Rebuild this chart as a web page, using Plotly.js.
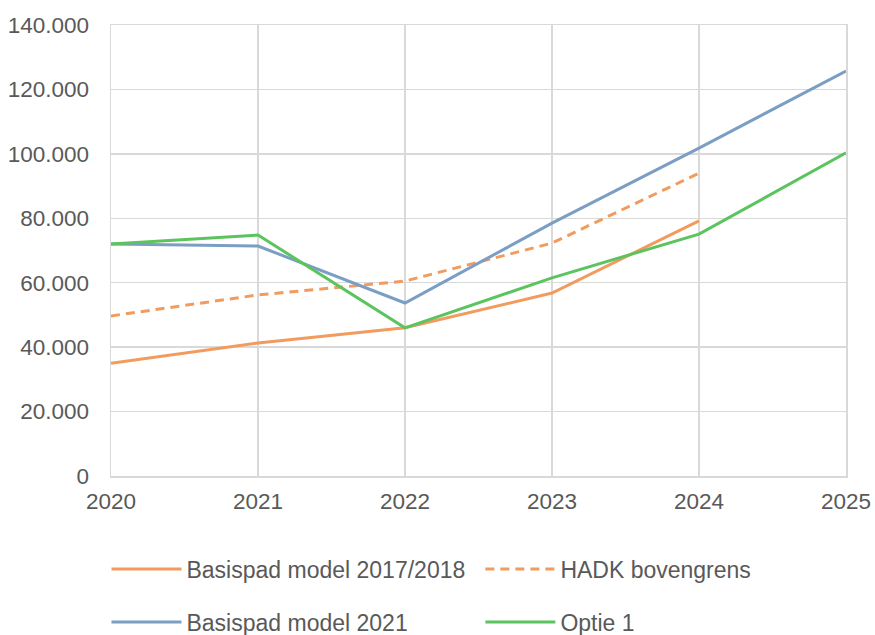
<!DOCTYPE html>
<html>
<head>
<meta charset="utf-8">
<script src="https://cdn.plot.ly/plotly-3.0.1.min.js"></script>
<style>
html, body { margin: 0; padding: 0; background: #fff; }
#chart { width: 875px; height: 635px; }
</style>
</head>
<body>
<div id="chart"></div>
<script>
const years = [2020, 2021, 2022, 2023, 2024, 2025]
const basis1718 = [35000, 41300, 46000, 56800, 79200, null]
const hadk = [49700, 56200, 60500, 72300, 94000, null]
const basis2021 = [72000, 71400, 53700, 78500, 101800, 125700]
const optie1 = [72000, 74800, 46000, 61500, 75100, 100300]

const orange = '#F29B5F'
const blue = '#7B9EC4'
const green = '#5CC45E'
const textColor = '#595959'
const gridColor = '#d9d9d9'

// one legend per series so each entry sits in its own grid cell
const data = [
  {x: years, y: basis1718, name: 'Basispad model 2017/2018', mode: 'lines',
   line: {color: orange, width: 3}, legend: 'legend'},
  {x: years, y: hadk, name: 'HADK bovengrens', mode: 'lines',
   line: {color: orange, width: 3, dash: '9px,6px'}, legend: 'legend2'},
  {x: years, y: basis2021, name: 'Basispad model 2021', mode: 'lines',
   line: {color: blue, width: 3}, legend: 'legend3'},
  {x: years, y: optie1, name: 'Optie 1', mode: 'lines',
   line: {color: green, width: 3}, legend: 'legend4'}
]

const legendBase = {
  orientation: 'h',
  xref: 'container', yref: 'container',
  xanchor: 'left', yanchor: 'middle',
  itemwidth: 70,
  font: {family: 'Liberation Sans, Arial, sans-serif', size: 23, color: textColor},
  bgcolor: 'rgba(0,0,0,0)'
}
const col1 = 0.1217, col2 = 0.549
const row1 = 1 - 569 / 635, row2 = 1 - 622 / 635

const layout = {
  width: 875,
  height: 635,
  margin: {l: 111, r: 29, t: 25, b: 159},
  paper_bgcolor: '#fff',
  plot_bgcolor: '#fff',
  separators: ',.',
  font: {family: 'Liberation Sans, Arial, sans-serif', size: 22.5, color: textColor},
  hovermode: false,
  xaxis: {
    range: [2020, 2025],
    tickvals: years,
    ticktext: years.map(String),
    showgrid: true, gridcolor: gridColor, gridwidth: 1.5,
    showline: true, linecolor: gridColor, linewidth: 1.5, mirror: true,
    zeroline: false,
    ticks: '', ticklabelstandoff: 4
  },
  yaxis: {
    range: [0, 140000],
    dtick: 20000,
    tickformat: ',d',
    showgrid: true, gridcolor: gridColor, gridwidth: 1.5,
    showline: true, linecolor: gridColor, linewidth: 1.5, mirror: true,
    zeroline: false,
    ticks: '', ticklabelstandoff: 16
  },
  legend: Object.assign({}, legendBase, {x: col1, y: row1}),
  legend2: Object.assign({}, legendBase, {x: col2, y: row1}),
  legend3: Object.assign({}, legendBase, {x: col1, y: row2}),
  legend4: Object.assign({}, legendBase, {x: col2, y: row2}),
  showlegend: true
}

Plotly.newPlot('chart', data, layout, {displayModeBar: false, staticPlot: true})
</script>
</body>
</html>
